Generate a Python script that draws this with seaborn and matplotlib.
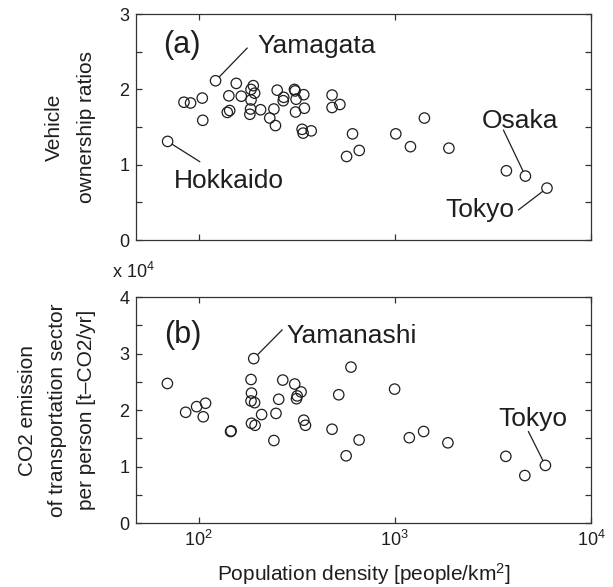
import numpy as np
import pandas as pd
import matplotlib
matplotlib.use("Agg")
import matplotlib.pyplot as plt
from matplotlib.ticker import NullLocator
import seaborn as sns

# ---- data ----
# (a) population density [people/km2] vs vehicle ownership ratio
density_a = [69.5, 122, 84.2, 91, 104.4, 105, 155.6, 142.6, 165, 140, 144,
             190, 185, 193, 185, 184, 182.5, 207, 242, 230.5, 246.5, 251.5,
             271.6, 270, 308, 310.6, 314, 343.5, 312, 346, 337, 341, 375,
             479, 479, 525, 609, 568, 659, 1012, 1202, 1416, 1888, 3707,
             4634, 5970]
vehicle_a = [1.31, 2.115, 1.83, 1.82, 1.885, 1.59, 2.08, 1.915, 1.91, 1.695, 1.72,
             2.05, 2.00, 1.95, 1.86, 1.74, 1.67, 1.73, 1.74, 1.62, 1.52, 1.99,
             1.895, 1.85, 2.00, 1.98, 1.87, 1.93, 1.70, 1.75, 1.47, 1.42, 1.45,
             1.925, 1.76, 1.80, 1.41, 1.11, 1.19, 1.41, 1.24, 1.62, 1.22, 0.92,
             0.85, 0.69]

# (b) population density vs CO2 emission of transport sector per person (x 10^4)
density_b = [69.3, 191, 85.9, 97.7, 108.5, 105.6, 145.5, 146.5, 185, 186, 185,
             193, 186, 194, 209.5, 248, 256, 242, 268.5, 309, 333, 318, 315.6,
             343.5, 350.6, 479, 518, 598, 565, 658, 998, 1186, 1403, 1866,
             3683, 4603, 5860]
co2_b = [2.47, 2.91, 1.96, 2.06, 2.12, 1.88, 1.62, 1.63, 2.54, 2.30, 2.16,
         2.13, 1.765, 1.73, 1.92, 1.94, 2.19, 1.46, 2.53, 2.46, 2.32, 2.25, 2.20,
         1.82, 1.73, 1.66, 2.27, 2.76, 1.19, 1.47, 2.37, 1.51, 1.62, 1.42,
         1.18, 0.84, 1.02]

yticks_a = [0, 0.5, 1, 1.5, 2, 2.5, 3]
yticklabels_a = ["0", "", "1", "", "2", "", "3"]
yticks_b = [0, 0.5, 1, 1.5, 2, 2.5, 3, 3.5, 4]
yticklabels_b = ["0", "", "1", "", "2", "", "3", "", "4"]
xticks = [100, 1000, 10000]
xticklabels = ["$10^2$", "$10^3$", "$10^4$"]

df_a = pd.DataFrame({"density": density_a, "vehicle": vehicle_a})
df_b = pd.DataFrame({"density": density_b, "co2": co2_b})

# ---- style ----
sns.set_style("ticks")
plt.rcParams["font.family"] = ["Liberation Sans", "DejaVu Sans"]
plt.rcParams["mathtext.default"] = "regular"
TXT = "#1e1e1e"
SP = "#333333"

fig = plt.figure(figsize=(6.13, 5.87), dpi=100)
ax1 = fig.add_axes([0.222, 0.591, 0.742, 0.385])
ax2 = fig.add_axes([0.222, 0.109, 0.742, 0.385])

mk = dict(marker="o", s=56, fc="none", ec=TXT, linewidth=0.9, legend=False)
sns.scatterplot(data=df_a, x="density", y="vehicle", ax=ax1, **mk)
sns.scatterplot(data=df_b, x="density", y="co2", ax=ax2, **mk)

for ax in (ax1, ax2):
    ax.set_xscale("log")
    ax.set_xlim(48, 10000)
    ax.set_xticks(xticks)
    ax.set_xticklabels(xticklabels)
    ax.xaxis.set_minor_locator(NullLocator())
    ax.tick_params(direction="in", length=4.5, width=0.9, top=True, right=True,
                   labelsize=13, pad=5, colors=SP, labelcolor=TXT)
    for s in ax.spines.values():
        s.set_color(SP)
        s.set_linewidth(0.9)

ax1.set_ylim(0, 3)
ax1.set_yticks(yticks_a)
ax1.set_yticklabels(yticklabels_a)
ax1.tick_params(labelbottom=False)
ax1.set_xlabel("")
ax1.set_ylabel("Vehicle\nownership ratios", fontsize=15, color=TXT, linespacing=1.85)
ax1.yaxis.set_label_coords(-0.088, 0.5)

ax2.set_ylim(0, 4)
ax2.set_yticks(yticks_b)
ax2.set_yticklabels(yticklabels_b)
ax2.set_xlabel("Population density [people/km$^2$]", fontsize=15, color=TXT, labelpad=8)
ax2.set_ylabel("CO2 emission\nof transportation sector\nper person [t\u2013CO2/yr]",
               fontsize=15, color=TXT, linespacing=1.7)
ax2.yaxis.set_label_coords(-0.088, 0.5)

fig.text(0.183, 0.537, "x 10$^4$", fontsize=13, color=TXT, ha="left", va="center")

# ---- annotations ----
line = dict(arrowstyle="-", color=TXT, lw=0.9, shrinkA=0, shrinkB=3.9)

def label(ax, name, pt, end, txt_pos, size=19):
    ax.annotate("", xy=pt, xytext=end, arrowprops=line)
    ax.text(txt_pos[0], txt_pos[1], name, fontsize=size, color=TXT,
            ha="left", va="baseline")

ax1.text(65.6, 2.48, "(a)", fontsize=22, color=TXT, ha="left", va="baseline")
label(ax1, "Yamagata", (density_a[1], vehicle_a[1]), (177, 2.55), (200, 2.48))
label(ax1, "Hokkaido", (density_a[0], vehicle_a[0]), (101.5, 1.04), (74.6, 0.69))
label(ax1, "Osaka", (density_a[-2], vehicle_a[-2]), (3581, 1.46), (2786, 1.49))
label(ax1, "Tokyo", (density_a[-1], vehicle_a[-1]), (4266, 0.40), (1807, 0.31))

ax2.text(66.5, 3.19, "(b)", fontsize=22, color=TXT, ha="left", va="baseline")
label(ax2, "Yamanashi", (density_b[1], co2_b[1]), (267, 3.42), (281, 3.19))
label(ax2, "Tokyo", (density_b[-1], co2_b[-1]), (4797, 1.62), (3367, 1.72))

fig.savefig("out.png", dpi=100)
